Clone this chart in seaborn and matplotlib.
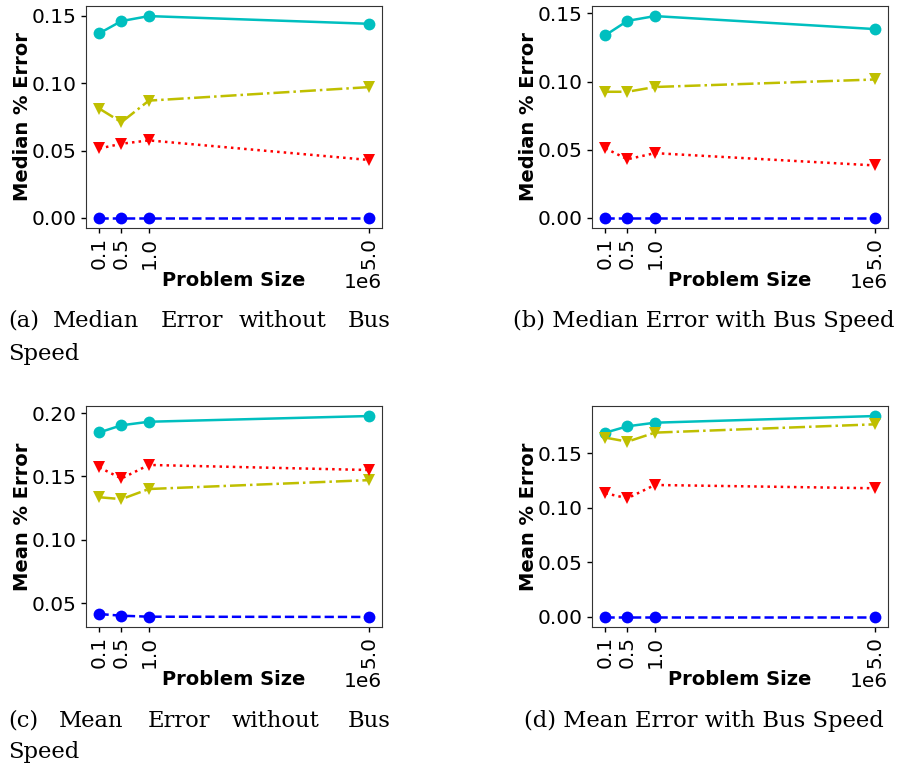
import matplotlib
matplotlib.use("Agg")
import matplotlib.pyplot as plt
import numpy as np
import pandas as pd
import seaborn as sns

# problem sizes (x axis)
sizes = [1e5, 5e5, 1e6, 5e6]

# (a) median error without bus speed
med_nobus_cyan = [0.137, 0.146, 0.1497, 0.144]
med_nobus_yellow = [0.081, 0.071, 0.087, 0.097]
med_nobus_red = [0.0515, 0.055, 0.0575, 0.043]
med_nobus_blue = [0.0, 0.0, 0.0, 0.0]

# (b) median error with bus speed
med_bus_cyan = [0.134, 0.1445, 0.148, 0.1385]
med_bus_yellow = [0.0925, 0.0925, 0.096, 0.1015]
med_bus_red = [0.051, 0.043, 0.0475, 0.0385]
med_bus_blue = [0.0, 0.0, 0.0, 0.0]

# (c) mean error without bus speed
mean_nobus_cyan = [0.1847, 0.1903, 0.1931, 0.1976]
mean_nobus_red = [0.157, 0.1483, 0.159, 0.155]
mean_nobus_yellow = [0.1335, 0.132, 0.14, 0.147]
mean_nobus_blue = [0.0413, 0.040, 0.0392, 0.039]

# (d) mean error with bus speed
mean_bus_cyan = [0.169, 0.1748, 0.1781, 0.1842]
mean_bus_yellow = [0.1644, 0.1607, 0.169, 0.1766]
mean_bus_red = [0.1134, 0.1088, 0.121, 0.118]
mean_bus_blue = [0.0, 0.0, 0.0, 0.0]

panels = [
    ("Median % Error", [med_nobus_cyan, med_nobus_yellow, med_nobus_red, med_nobus_blue]),
    ("Median % Error", [med_bus_cyan, med_bus_yellow, med_bus_red, med_bus_blue]),
    ("Mean % Error", [mean_nobus_cyan, mean_nobus_yellow, mean_nobus_red, mean_nobus_blue]),
    ("Mean % Error", [mean_bus_cyan, mean_bus_yellow, mean_bus_red, mean_bus_blue]),
]
# style per series: cyan, yellow, red, blue
styles = [
    dict(color="c", marker="o", linestyle="-"),
    dict(color="y", marker="v", linestyle="-."),
    dict(color="r", marker="v", linestyle=":"),
    dict(color="b", marker="o", linestyle="--"),
]

sns.set_style("ticks")
plt.rcParams["font.family"] = ["DejaVu Sans"]
plt.rcParams["text.color"] = "black"
plt.rcParams["axes.labelcolor"] = "black"

W, H = 899, 767
fig = plt.figure(figsize=(W / 100, H / 100), dpi=100)

# axes boxes in pixels: left, top, right, bottom
boxes = [(86, 6, 382, 228), (592, 6, 888, 228), (86, 406, 382, 627), (592, 406, 888, 627)]

for (ylabel, series), (l, t, r, b) in zip(panels, boxes):
    ax = fig.add_axes([l / W, 1 - b / H, (r - l) / W, (b - t) / H])
    for vals, st in zip(series, styles):
        df = pd.DataFrame({"size": sizes, "err": vals})
        sns.lineplot(data=df, x="size", y="err", ax=ax, color=st["color"],
                     marker=st["marker"], linestyle=st["linestyle"],
                     linewidth=1.8, markersize=8.5, markeredgewidth=0,
                     markeredgecolor=st["color"])
    ax.set_xticks(sizes)
    ax.tick_params(axis="x", labelrotation=90, labelsize=14.5, colors="black",
                   length=3.5, width=1, pad=3)
    ax.tick_params(axis="y", labelsize=14.5, colors="black", length=3.5, width=1, pad=3)
    ax.xaxis.get_offset_text().set_fontsize(14.5)
    ax.set_xlabel("Problem Size", fontsize=14, fontweight="bold", color="black", labelpad=1)
    ax.set_ylabel(ylabel, fontsize=14, fontweight="bold", color="black", labelpad=0)
    for sp in ax.spines.values():
        sp.set_color("#333333")

cap_font = dict(family="DejaVu Serif", fontsize=16.3, va="baseline", color="black")

# justified two-line captions on the left
left_caps = [
    (327, 360, [("(a)", 8), ("Median", 53), ("Error", 161), ("without", 239), ("Bus", 348)]),
    (727, 758, [("(c)", 8), ("Mean", 59), ("Error", 148), ("without", 232), ("Bus", 348)]),
]
for y1, y2, words in left_caps:
    for w, x in words:
        fig.text(x / W, 1 - y1 / H, w, **cap_font)
    fig.text(8 / W, 1 - y2 / H, "Speed", **cap_font)

fig.text(704 / W, 1 - 327 / H, "(b) Median Error with Bus Speed", ha="center", **cap_font)
fig.text(704 / W, 1 - 727 / H, "(d) Mean Error with Bus Speed", ha="center", **cap_font)

fig.savefig("out.png", dpi=100)
